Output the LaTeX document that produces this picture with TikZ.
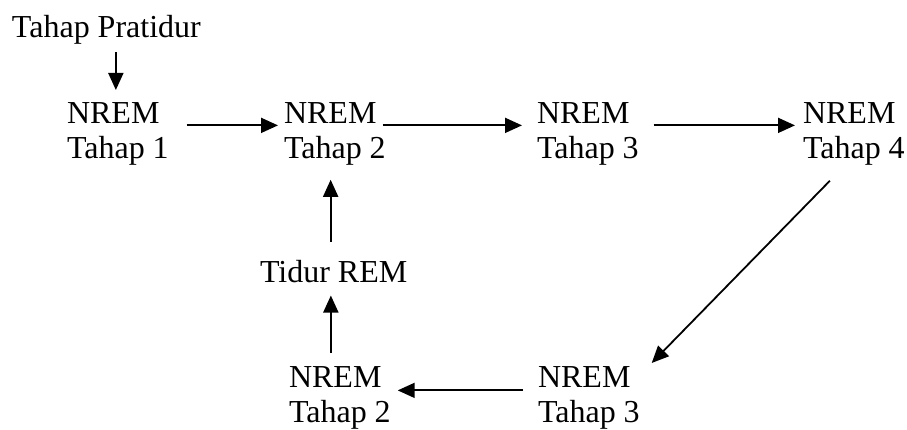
\documentclass[tikz,border=0pt]{standalone}
\usepackage{fontspec}
\setmainfont{Liberation Serif}
\usetikzlibrary{arrows.meta,calc}
\begin{document}
\begin{tikzpicture}[x=1pt,y=-1pt,
  lbl/.style={inner sep=0pt,outer sep=0pt,align=left,anchor=north west,
    font=\fontsize{32}{35}\selectfont},
  arr/.style={line width=1.8pt,-{Triangle[length=17pt,width=15pt]}}]
\useasboundingbox (0,0) rectangle (907,430);
\node[lbl] (pre) at (12,15) {Tahap Pratidur};
\node[lbl] (t1) at (67,103) {NREM\\Tahap 1};
\node[lbl] (t2) at (284,103) {NREM\\Tahap 2};
\node[lbl] (t3) at (537,103) {NREM\\Tahap 3};
\node[lbl] (t4) at (803,103) {NREM\\Tahap 4};
\node[lbl] (b3) at (538,367) {NREM\\Tahap 3};
\node[lbl] (b2) at (289,367) {NREM\\Tahap 2};
\node[lbl] (rem) at (260,260) {Tidur REM};
\draw[arr] ($(t1.north |- pre.south)+(-2,8)$) -- ([shift={(-2,-13)}]t1.north);
\draw[arr] ([shift={(18,-9)}]t1.east) -- ([shift={(-6,-9)}]t2.west);
\draw[arr] ([shift={(-3,-9)}]t2.east) -- ([shift={(-15,-9)}]t3.west);
\draw[arr] ([shift={(15,-9)}]t3.east) -- ([shift={(-8,-9)}]t4.west);
\draw[arr] ([shift={(-24,15)}]t4.south) -- ([shift={(12,-4)}]b3.north east);
\draw[arr] ([shift={(-15,-8)}]b3.west) -- ([shift={(7,-8)}]b2.east);
\draw[arr] ($(b2.north)+(-9,-14)$) -- ($(b2.north |- rem.south)+(-9,13)$);
\draw[arr] ($(rem.north)+(-3,-18)$) -- ($(rem.north |- t2.south)+(-3,14)$);
\end{tikzpicture}
\end{document}
